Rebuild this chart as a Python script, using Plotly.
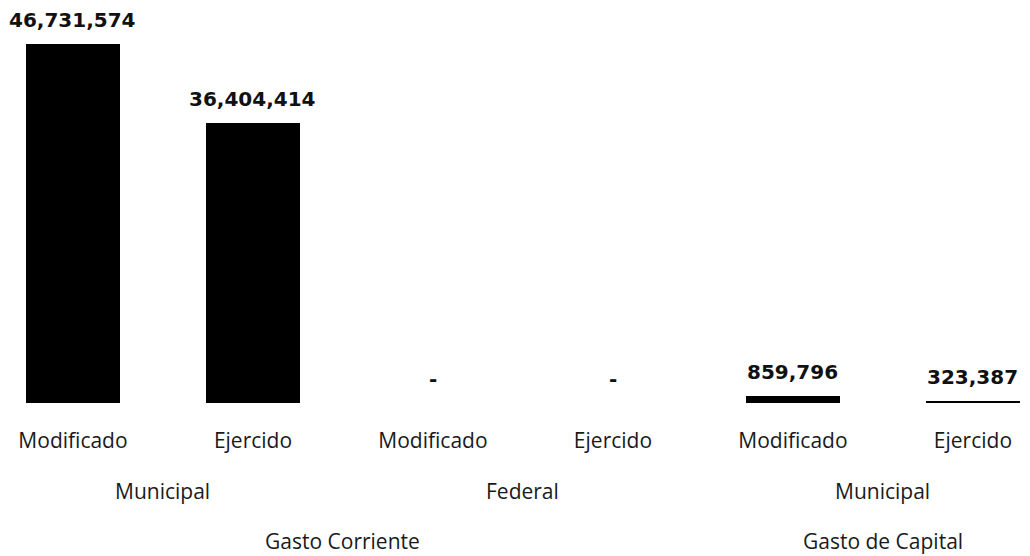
"""
Gasto Corriente / Gasto de Capital: Modificado vs Ejercido
"""

import plotly.graph_objects as go

# Datos
tipo_gasto = ['Gasto Corriente', 'Gasto Corriente', 'Gasto Corriente', 'Gasto Corriente',
              'Gasto de Capital', 'Gasto de Capital']
fuente = ['Municipal', 'Municipal', 'Federal', 'Federal', 'Municipal', 'Municipal']
momento = ['Modificado', 'Ejercido', 'Modificado', 'Ejercido', 'Modificado', 'Ejercido']
montos = [46731574, 36404414, 0, 0, 859796, 323387]

posiciones = list(range(len(montos)))
etiquetas = [f'{v:,}' if v > 0 else '-' for v in montos]

fig = go.Figure()

fig.add_trace(
    go.Bar(
        x=posiciones,
        y=montos,
        width=0.52,
        marker=dict(color='black', line=dict(width=0)),
        hoverinfo='skip',
        showlegend=False
    )
)

# Etiquetas de valor sobre las barras
for x, y, txt in zip(posiciones, montos, etiquetas):
    fig.add_annotation(
        x=x, y=y, text=f'<b>{txt}</b>',
        showarrow=False, yshift=24, yanchor='middle',
        font=dict(family='DejaVu Sans', size=20, color='#111111')
    )

# Niveles de agrupación del eje x (fuente y tipo de gasto)
def grupos(nombres):
    salida = []
    inicio = 0
    for i in range(1, len(nombres) + 1):
        if i == len(nombres) or nombres[i] != nombres[inicio] or (
                nombres is fuente and tipo_gasto[i] != tipo_gasto[inicio]):
            salida.append((nombres[inicio], (inicio + i - 1) / 2))
            inicio = i
    return salida

eje_font = dict(family='Open Sans', size=21, color='#1a1a1a')

for nombre, centro in grupos(fuente):
    fig.add_annotation(
        x=centro, y=0, yref='paper', text=nombre, showarrow=False,
        yshift=-88, yanchor='middle', font=eje_font
    )

for nombre, centro in grupos(tipo_gasto):
    fig.add_annotation(
        x=centro, y=0, yref='paper', text=nombre, showarrow=False,
        yshift=-138, yanchor='middle', font=eje_font
    )

# La página agrega ~8px de margen, así que la figura es un poco más chica
fig.update_layout(
    width=1022,
    height=548,
    margin=dict(l=0, r=0, t=10, b=153),
    paper_bgcolor='white',
    plot_bgcolor='white',
    bargap=0,
    xaxis=dict(
        range=[-0.361, 5.317],
        tickmode='array',
        tickvals=posiciones,
        ticktext=momento,
        tickfont=eje_font,
        ticks='',
        ticklabelstandoff=23,
        showgrid=False,
        zeroline=False,
        showline=False
    ),
    yaxis=dict(
        range=[0, 50.12e6],
        visible=False,
        showgrid=False,
        zeroline=False
    )
)

fig.write_html("out.html")
